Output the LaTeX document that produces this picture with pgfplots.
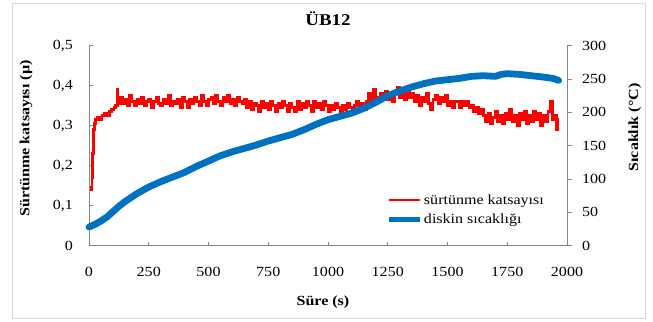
\documentclass[border=0pt]{standalone}
\usepackage{fontspec}
\setmainfont{Liberation Serif}[FakeStretch=1.15]
\usepackage{pgfplots}
\pgfplotsset{compat=1.18}
\definecolor{redc}{RGB}{255,0,0}
\definecolor{bluec}{RGB}{0,112,192}
\definecolor{axgray}{RGB}{134,134,134}
\definecolor{framegray}{RGB}{217,217,217}
\pgfplotsset{
  /pgf/number format/assume math mode=true,
  every tick label/.append style={font=\fontsize{14}{16}\selectfont},
}
\begin{document}
\begin{tikzpicture}
\useasboundingbox (0,0) rectangle (653bp,322bp);
\draw[framegray, line width=0.8bp] (12bp,4bp) rectangle (645bp,319bp);
\begin{axis}[
  at={(89bp,76.3bp)}, anchor=south west, scale only axis,
  width=478bp, height=200bp,
  xmin=0, xmax=2000, ymin=0, ymax=0.5,
  axis x line*=bottom, axis y line*=left,
  axis line style={axgray, line width=0.8bp, -},
  tick style={axgray, line width=0.8bp},
  tick align=inside, major tick length=4bp,
  xtick={0,250,...,2000}, ytick={0,0.1,0.2,0.3,0.4,0.5},
  x tick label style={/pgf/number format/1000 sep={}, anchor=north, inner sep=0pt, yshift=-21bp},
  y tick label style={/pgf/number format/.cd, fixed, use comma, precision=1, /tikz/.cd, anchor=east, inner sep=0pt, xshift=-16bp},
  title={ÜB12},
  title style={font=\bfseries\fontsize{16.5}{19}\selectfont, at={(axis description cs:0.5,1.1035)}, anchor=center},
  xlabel={Süre (s)},
  xlabel style={font=\bfseries\fontsize{14}{16}\selectfont, at={(axis description cs:0.4895,-0.281)}, anchor=center},
  ylabel={Sürtünme katsayısı (µ)},
  ylabel style={font=\bfseries\fontsize{14}{16}\selectfont, at={(axis description cs:-0.1318,0.536)}, anchor=center, rotate=0},
]
\addplot[redc, line width=2.6bp, const plot] coordinates {
(3,0.145) (8,0.14) (12,0.17) (15,0.23) (18,0.29) (22,0.305) (28,0.315) (35,0.32) (45,0.315) (55,0.325) (65,0.33) (75,0.325) (85,0.335) (95,0.34) (105,0.345) (112,0.35) (118,0.39) (122,0.355)
(130,0.37) (140,0.355) (150,0.365) (160,0.35) (170,0.375) (180,0.36) (190,0.35) (200,0.365) (210,0.355) (220,0.37) (230,0.35) (240,0.36) (250,0.365) (260,0.345) (270,0.36) (280,0.37) (290,0.355) (300,0.35) (310,0.365) (320,0.355) (330,0.375) (340,0.35) (350,0.36) (360,0.355) (370,0.365) (380,0.345) (390,0.37) (400,0.36) (410,0.345) (420,0.365) (430,0.355) (440,0.37) (450,0.36) (460,0.35) (470,0.375) (480,0.36) (490,0.35) (500,0.365)
(510,0.37) (520,0.355) (530,0.375) (540,0.36) (550,0.35) (560,0.37) (570,0.36) (580,0.375) (590,0.355) (600,0.365) (610,0.35) (620,0.37) (630,0.36) (640,0.355) (650,0.365)
(660,0.345) (670,0.36) (680,0.34) (690,0.355) (700,0.35) (710,0.335) (720,0.36) (730,0.345) (740,0.355) (750,0.34) (760,0.36) (770,0.35) (780,0.335) (790,0.355) (800,0.345) (810,0.36) (820,0.35) (830,0.335) (840,0.355) (850,0.345) (860,0.335) (870,0.36) (880,0.34) (890,0.355) (900,0.345) (910,0.36) (920,0.35) (930,0.335) (940,0.36) (950,0.345) (960,0.355) (970,0.34) (980,0.36) (990,0.35) (1000,0.335)
(1010,0.35) (1020,0.34) (1030,0.355) (1040,0.345) (1050,0.335) (1060,0.35) (1070,0.34) (1080,0.355) (1090,0.345) (1100,0.335) (1110,0.35) (1120,0.36) (1130,0.345) (1140,0.355) (1150,0.34) (1160,0.36)
(1170,0.38) (1180,0.365) (1190,0.39) (1200,0.37) (1210,0.36) (1220,0.38) (1230,0.37) (1240,0.385) (1250,0.365) (1260,0.375) (1270,0.36) (1280,0.38) (1290,0.395) (1300,0.37) (1310,0.38) (1320,0.365) (1330,0.385) (1340,0.37) (1350,0.38)
(1360,0.36) (1370,0.375) (1380,0.35) (1390,0.37) (1400,0.36) (1410,0.38) (1420,0.355) (1430,0.34) (1440,0.365) (1450,0.375) (1460,0.355) (1470,0.37) (1480,0.36) (1490,0.375) (1500,0.35)
(1510,0.36) (1520,0.345) (1530,0.36) (1540,0.36) (1550,0.345) (1560,0.36) (1570,0.35) (1580,0.36) (1590,0.345) (1600,0.35)
(1610,0.335) (1620,0.345) (1630,0.33) (1640,0.34) (1650,0.325)
(1660,0.31) (1670,0.33) (1680,0.305) (1690,0.32) (1700,0.335) (1710,0.31) (1720,0.325) (1730,0.305) (1740,0.33) (1750,0.315) (1760,0.34) (1770,0.31) (1780,0.325) (1790,0.3) (1800,0.33) (1810,0.315) (1820,0.335) (1830,0.305) (1840,0.325) (1850,0.31) (1860,0.335) (1870,0.315) (1880,0.33) (1890,0.3) (1900,0.325) (1910,0.31) (1920,0.335) (1930,0.36) (1940,0.315) (1950,0.325) (1955,0.29) (1960,0.32)
};
\end{axis}
\begin{axis}[
  at={(89bp,76.3bp)}, anchor=south west, scale only axis,
  width=478bp, height=200bp,
  xmin=0, xmax=2000, ymin=0, ymax=300,
  axis x line=none, axis y line*=right,
  axis line style={axgray, line width=0.8bp, -},
  tick style={axgray, line width=0.8bp},
  tick align=outside, major tick length=5bp,
  ytick={0,50,...,300},
  y tick label style={anchor=west, inner sep=0pt, xshift=10bp},
  ylabel={Sıcaklık (°C)},
  ylabel style={font=\bfseries\fontsize{14}{16}\selectfont, at={(axis description cs:1.142,0.591)}, anchor=center, rotate=0},
  clip=false,
  legend style={at={(axis description cs:0.623,0.262)}, anchor=north west, draw=none, fill=none,
    font=\fontsize{14}{16}\selectfont, inner sep=0pt, row sep=6bp,
    nodes={inner xsep=1.5bp, inner ysep=1bp}},
  legend cell align=left,
  legend image code/.code={\draw[#1] (0bp,0bp) -- (31bp,0bp);},
]
\addlegendimage{redc, line width=2.6bp}
\addlegendentry{sürtünme katsayısı}
\addplot[bluec, line width=6.8bp, line cap=round, line join=round, forget plot] coordinates {
(0,28) (25,32) (50,37) (75,43) (100,51) (125,59) (150,66) (175,72) (200,78) (250,88) (300,96) (350,103) (400,110) (450,119) (500,127) (550,135) (600,141) (650,146) (700,151) (750,157) (800,162) (850,167) (900,174) (950,182) (1000,189) (1050,194) (1100,199) (1150,206) (1200,215) (1250,225) (1300,232) (1350,238) (1400,243) (1450,247) (1500,249) (1550,251) (1600,254) (1650,255) (1700,254) (1725,257) (1750,258) (1800,257) (1850,255) (1900,253) (1940,251) (1965,248)
};
\addlegendimage{bluec, line width=4.5bp}
\addlegendentry{diskin sıcaklığı}
\end{axis}
\end{tikzpicture}
\end{document}
